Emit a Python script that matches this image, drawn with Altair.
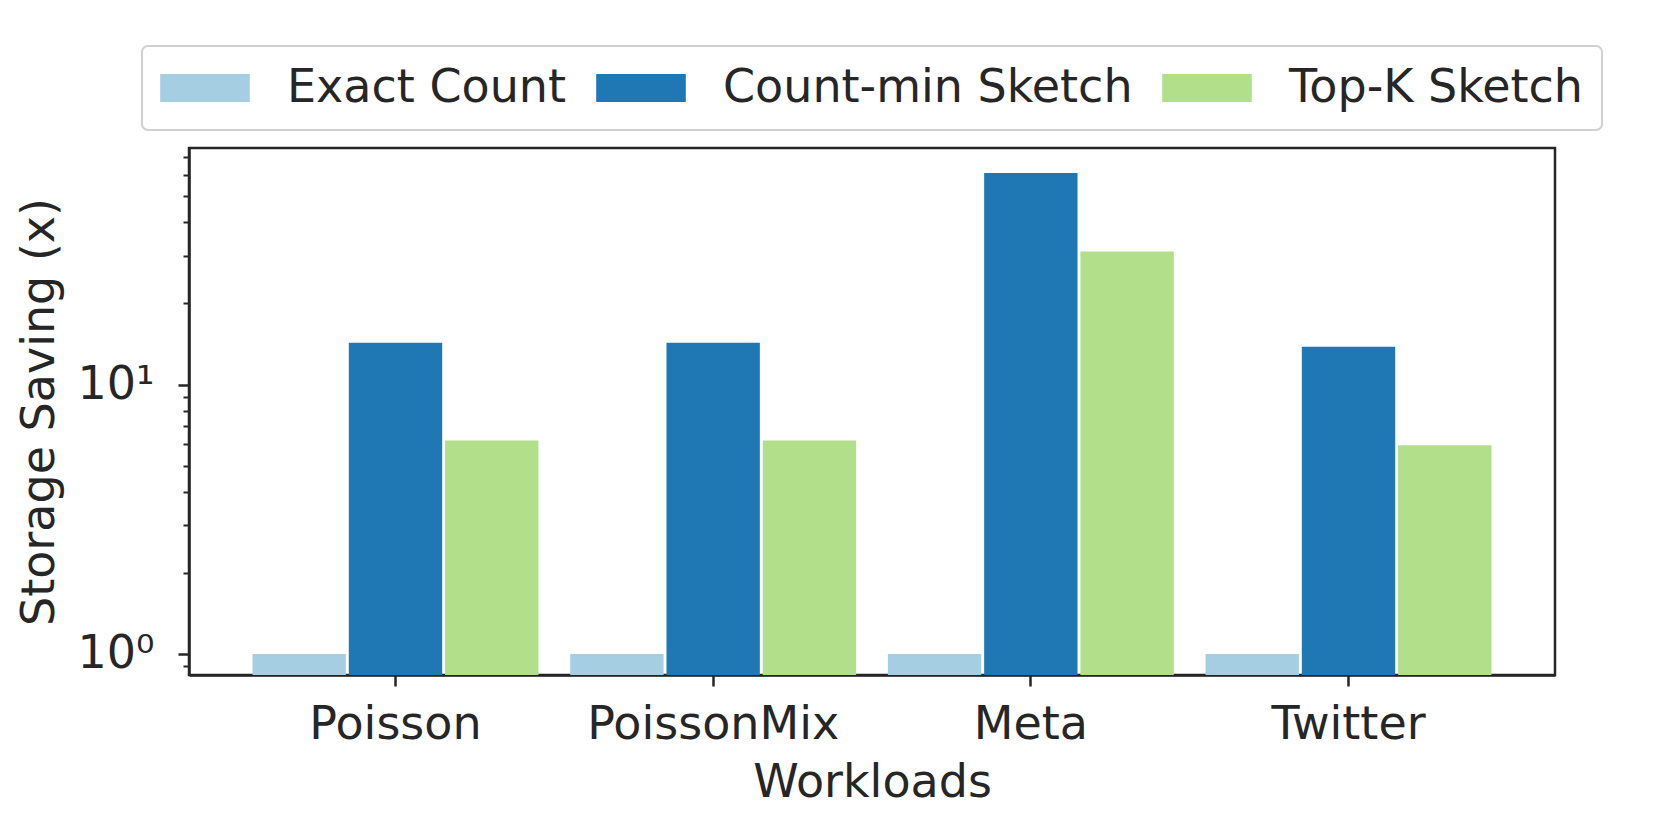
import altair as alt
import pandas as pd

workloads = ["Poisson", "PoissonMix", "Meta", "Twitter"]
methods = ["Exact Count", "Count-min Sketch", "Top-K Sketch"]
exact_count = [1.0, 1.0, 1.0, 1.0]
count_min = [14.3, 14.3, 61.0, 13.8]
top_k = [6.2, 6.2, 31.2, 5.95]
colors = ["#a6cee3", "#1f78b4", "#b2df8a"]
y_tick_values = [0.9, 1, 2, 3, 4, 5, 6, 7, 8, 9, 10, 20, 30, 40, 50, 60, 70]
bar_base = 0.5

rows = []
for i, w in enumerate(workloads):
    rows.append({"Workload": w, "Method": methods[0], "Saving": exact_count[i]})
    rows.append({"Workload": w, "Method": methods[1], "Saving": count_min[i]})
    rows.append({"Workload": w, "Method": methods[2], "Saving": top_k[i]})
df = pd.DataFrame(rows)

FONT = "DejaVu Sans"
TXT = "#262626"
FS = 46

major = "datum.value == 1 || datum.value == 10"

chart = alt.Chart(df).mark_bar(clip=True).encode(
    x=alt.X("Workload:N", sort=workloads,
            scale=alt.Scale(paddingInner=0.1, paddingOuter=0.2),
            axis=alt.Axis(title="Workloads", labelAngle=0, labelFontSize=FS,
                          titleFontSize=FS, tickSize=11, tickWidth=2.5,
                          labelPadding=16, titlePadding=13, labelLimit=0)),
    xOffset=alt.XOffset("Method:N", sort=methods,
                        scale=alt.Scale(paddingInner=0.03)),
    y=alt.Y("Saving:Q",
            scale=alt.Scale(type="log", domain=[0.835, 75.5], nice=False),
            axis=alt.Axis(title="Storage Saving (x)", values=y_tick_values,
                          labelExpr="datum.value == 1 ? '10⁰' : (datum.value == 10 ? '10¹' : '')",
                          labelFontSize=FS, titleFontSize=FS,
                          tickSize={"condition": {"test": major, "value": 11}, "value": 6},
                          tickWidth={"condition": {"test": major, "value": 2.5}, "value": 2},
                          labelPadding=24, titlePadding=14)),
    y2=alt.datum(bar_base),
    color=alt.Color("Method:N", sort=methods,
                    scale=alt.Scale(domain=methods, range=colors),
                    legend=alt.Legend(
                        title=None, orient="none", legendX=-47, legendY=-102,
                        direction="horizontal", columns=3,
                        symbolType="M-1.7,-1H4.7V1H-1.7Z", symbolSize=784,
                        symbolStrokeWidth=0, symbolOpacity=1,
                        labelFontSize=FS, labelFont=FONT, labelColor=TXT,
                        labelOffset=80, labelLimit=0, columnPadding=29, padding=19,
                        strokeColor="#d0d0d0",
                        fillColor="white", cornerRadius=6)),
).properties(
    width=1366, height=527,
    padding={"left": 8, "top": 37, "right": 5, "bottom": 5},
).configure_view(
    stroke=TXT, strokeWidth=2.5
).configure_axis(
    labelFont=FONT, titleFont=FONT, labelColor=TXT, titleColor=TXT,
    titleFontWeight="normal", domainColor=TXT, domainWidth=2.5,
    tickColor=TXT, grid=False
).configure_legend(
    strokeWidth=2
)

chart.save("out.html", embed_options={"renderer": "svg", "actions": False})
